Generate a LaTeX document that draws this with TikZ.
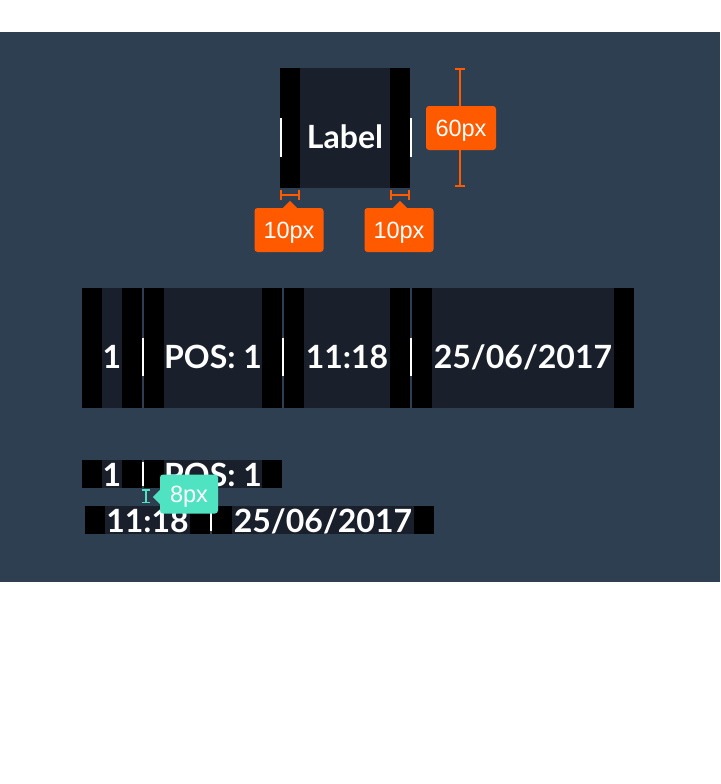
\documentclass[tikz,border=0pt]{standalone}
\usepackage{fontspec}
\setmainfont{Liberation Sans}
\newfontfamily\lato{Lato}
\usetikzlibrary{arrows.meta}
\definecolor{slate}{HTML}{2F3F52}
\definecolor{cellbg}{HTML}{19202B}
\definecolor{tagorange}{HTML}{FF5A00}
\definecolor{mint}{HTML}{50E3C2}
\begin{document}
\begin{tikzpicture}[x=1pt,y=-1pt,
  pad/.style={fill=black},
  cellfill/.style={fill=cellbg},
  lbl/.style={text=white,inner sep=0pt,font=\lato\bfseries\fontsize{32}{38}\selectfont},
  sep/.style={white,line width=2pt},
  tag/.style={fill=#1,rounded corners=3pt,text=white,inner sep=0pt,text depth=0pt,font=\fontsize{23.5}{26}\selectfont},
  dim/.style={#1,line width=2pt,{Bar[width=10pt]}-{Bar[width=10pt]}}]
\useasboundingbox (0,0) rectangle (720,784);
\fill[slate] (0,32) rectangle (720,582);
% single label
\fill[cellfill] (280,68) rectangle (410,188);
\fill[pad] (280,68) rectangle +(20,120); \fill[pad] (410,68) rectangle +(-20,120);
\node[lbl] (lab) at (345,137) {Label};
\foreach \X in {281,411} {\draw[sep] (\X,118) -- (\X,157);}
% one row
\foreach [count=\i] \a/\b/\t in {82/142/1,144/282/{POS: 1},284/410/{11:18},412/634/{25/06/2017}}
{\fill[cellfill] (\a,288) rectangle (\b,408);
\fill[pad] (\a,288) rectangle +(20,120); \fill[pad] (\b,288) rectangle +(-20,120);
\node[lbl] (r\i) at ({(\a+\b)/2},357) {\t};}
\foreach \X in {143,283,411} {\draw[sep] (\X,338) -- (\X,376);}
% wrapped rows
\foreach [count=\i] \a/\b/\y/\t in {82/142/460/1,144/282/460/{POS: 1},85/210/506/{11:18},212/434/506/{25/06/2017}}
{\fill[cellfill] (\a,\y) rectangle (\b,\y+28);
\fill[pad] (\a,\y) rectangle +(20,28); \fill[pad] (\b,\y) rectangle +(-20,28);
\node[lbl] (w\i) at ({(\a+\b)/2},\y+15) {\t};}
\draw[sep] (143,462) -- (143,486);
\draw[sep] (211,509) -- (211,531);
% measures
\draw[dim=tagorange] (460,68) coordinate (h0) -- (460,187) coordinate (h1);
\node[tag=tagorange,minimum width=70pt,minimum height=44pt] (t60) at (461,128) {60px};
\foreach [count=\Z] \X in {280,390}
{\draw[dim=tagorange] (\X,195) coordinate (p\Z) -- (\X+20,195) coordinate (q\Z);
\node[tag=tagorange,minimum width=69pt,minimum height=44pt] (t\Z) at (\X+9,230) {10px};
\fill[tagorange] ([xshift=-7pt]t\Z.north-|{\X+10,0}) -- ++(7,-7) -- ++(7,7) -- cycle;}
\draw[mint,line width=1.5pt,{Bar[width=8pt]}-{Bar[width=8pt]}] (146,489) coordinate (g0) -- (146,503) coordinate (g1);
\node[tag=mint,minimum width=58pt,minimum height=39pt] (t8) at (189,494) {8px};
\fill[mint] ([yshift=7pt]t8.west|-{0,497}) -- ++(-7,7) -- ++(7,7) -- cycle;
\end{tikzpicture}
\end{document}
